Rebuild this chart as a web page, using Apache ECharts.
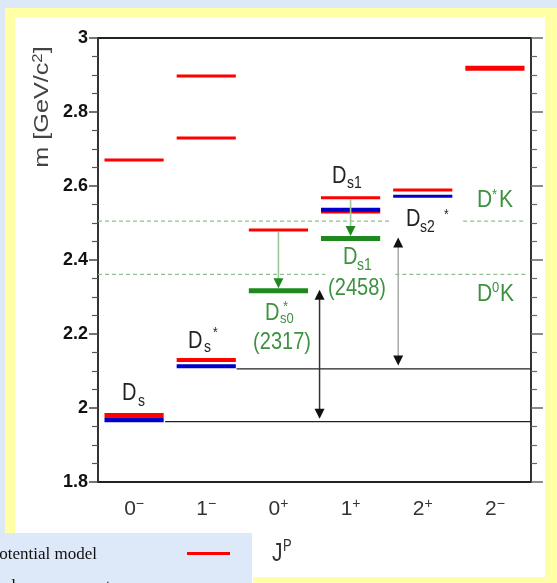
<!DOCTYPE html>
<html><head><meta charset="utf-8">
<script src="https://cdn.jsdelivr.net/npm/echarts@6/dist/echarts.min.js"></script>
<style>html,body{margin:0;padding:0;background:#fff}#c{width:557px;height:583px}</style>
</head><body><div id="c"></div>
<script>
// ---------------- data ----------------
const categories = ['0-', '1-', '0+', '1+', '2+', '2-'];
const yTicks = [1.8, 2, 2.2, 2.4, 2.6, 2.8, 3];
// [J^P category index, mass GeV/c^2]
const potentialModel = [[0, 2.670], [0, 1.981], [1, 2.897], [1, 2.730], [1, 2.130], [2, 2.481], [3, 2.568], [3, 2.530], [4, 2.589], [5, 2.918]];
const measured = [[0, 1.968], [1, 2.113], [3, 2.536], [4, 2.572]];
const newStates = [[2, 2.317], [3, 2.458]];
const thresholdNames = ['D*K', 'D0K'];
const thresholdMasses = [2.505, 2.361];
const referenceMasses = [2.106, 1.963];          // Ds*, Ds reference levels
const transitions = [[2, 2.481, 2.317], [3, 2.568, 2.458]];   // [cat, from, to]
const splittings = [[3, 2.317, 1.968], [4, 2.458, 2.112]];   // [cat, upper, lower]

// ---------------- layout / style ----------------
const FONT = 'Liberation Sans, Arial, sans-serif';
const RED = '#ff0000', BLUE = '#0000cc', GREEN = '#1e8a1e', LGREEN = '#3d9140';
const PAD = 0.09;
const TEXT_STRETCH = 1.18;
const modelWidths = [3, 4, 3, 3, 4, 3, 3, 3, 3, 5];
const measuredWidths = [5, 4, 4, 3];
const referenceStart = [1.92, 0.93];
const thresholdSegments = [[[0, 4.07], [5.06, 5.93]], [[0, 3.15], [4.12, 5.93]]];
const transitionOffset = [0.5, 0.5];
const splittingOffset = [0.07, 0.16];
const splittingShaft = ['#333', '#aaa'];
// annotation anchors (x in category units, y in mass) + text parts [text, dx, dy, size]
const annotations = [
  {x: 0.333, m: 2.038, color: '#222', parts: [['D', 0, 0, 20], ['s', 16, 8, 14]]},
  {x: 1.247, m: 2.180, color: '#222', parts: [['D', 0, 0, 20], ['s', 16, 6, 14], ['*', 25, -8, 12]]},
  {x: 2.314, m: 2.255, color: LGREEN, parts: [['D', 0, 0, 20], ['*', 18, -7, 13], ['s0', 15, 5, 13]]},
  {x: 2.55, m: 2.178, color: LGREEN, center: true, parts: [['(2317)', 0, 0, 20]]},
  {x: 3.395, m: 2.407, color: LGREEN, parts: [['D', 0, 0, 20], ['s1', 14, 8, 14]]},
  {x: 3.589, m: 2.324, color: LGREEN, center: true, parts: [['(2458)', 0, 0, 20]]},
  {x: 3.242, m: 2.626, color: '#222', parts: [['D', 0, 0, 20], ['s1', 15, 7, 14]]},
  {x: 4.268, m: 2.509, color: '#222', parts: [['D', 0, 0, 20], ['s2', 14, 8, 14], ['*', 38, -5, 12]]},
  {x: 5.25, m: 2.562, color: LGREEN, parts: [['D', 0, 0, 21], ['*', 15, -5, 13], ['K', 22, 0, 21]]},
  {x: 5.25, m: 2.309, color: LGREEN, parts: [['D', 0, 0, 21], ['0', 15, -6, 13], ['K', 23, 0, 21]]}
];

function levelSeries(data, color, widths) {
  return {
    type: 'custom', xAxisIndex: 2, yAxisIndex: 0, clip: false, silent: true, data,
    renderItem(params, api) {
      const i = api.value(0), m = api.value(1);
      const a = api.coord([i + PAD, m]), b = api.coord([i + 1 - PAD, m]);
      return {type: 'line', shape: {x1: a[0], y1: a[1], x2: b[0], y2: b[1]},
        style: {stroke: color, lineWidth: widths[params.dataIndex]}};
    }
  };
}
function head(x, y, dir, color) { // tip at (x,y), dir=+1 pointing down, -1 up
  const h = 10, w = 5;
  return {type: 'polygon', shape: {points: [[x, y], [x - w, y - dir * h], [x + w, y - dir * h]]}, style: {fill: color}};
}

const option = {
  backgroundColor: '#ffffff',
  animation: false,
  grid: {left: 98, right: 26, top: 38, bottom: 101},
  xAxis: [
    {type: 'category', data: categories, position: 'bottom', boundaryGap: true,
     axisLine: {lineStyle: {color: '#222', width: 2}},
     axisTick: {length: 9, lineStyle: {color: '#777', width: 2}},
     axisLabel: {margin: 15, color: '#333', fontFamily: FONT,
       formatter: v => '{n|' + v[0] + '}{s|' + (v[1] === '-' ? '\u2212' : '+') + '}',
       rich: {n: {fontSize: 21, fontFamily: FONT, color: '#333', lineHeight: 24},
              s: {fontSize: 14, fontFamily: FONT, color: '#333', verticalAlign: 'top', lineHeight: 16}}}},
    {type: 'category', data: categories, position: 'top', boundaryGap: true,
     axisLine: {lineStyle: {color: '#222', width: 2}},
     axisTick: {length: 9, lineStyle: {color: '#555', width: 1.5}},
     axisLabel: {show: false}},
    {type: 'value', min: 0, max: 6, show: false}
  ],
  yAxis: [
    {type: 'value', min: 1.8, max: 3, interval: 0.2, position: 'left',
     axisLine: {show: true, lineStyle: {color: '#333', width: 2}},
     axisTick: {show: true, length: 9, lineStyle: {color: '#444', width: 1.5}},
     minorTick: {show: true, splitNumber: 4, length: 6, lineStyle: {color: '#555', width: 1.2}},
     splitLine: {show: false},
     axisLabel: {margin: 10, color: '#111', fontWeight: 'bold', fontSize: 18, fontFamily: FONT,
       formatter: v => yTicks.find(t => Math.abs(t - v) < 1e-6).toString()}},
    {type: 'value', min: 1.8, max: 3, interval: 0.2, position: 'right',
     axisLine: {show: true, lineStyle: {color: '#333', width: 2}},
     axisTick: {show: true, length: 12, lineStyle: {color: '#666', width: 1.5}},
     minorTick: {show: true, splitNumber: 4, length: 6, lineStyle: {color: '#666', width: 1.2}},
     splitLine: {show: false}, axisLabel: {show: false}}
  ],
  series: [
    // threshold dashed lines
    {type: 'custom', xAxisIndex: 2, yAxisIndex: 0, clip: false, silent: true,
     data: thresholdMasses.map((m, k) => [k, m]),
     renderItem(params, api) {
       const m = api.value(1);
       return {type: 'group', children: thresholdSegments[params.dataIndex].map(s => {
         const a = api.coord([s[0], m]), b = api.coord([s[1], m]);
         return {type: 'line', shape: {x1: a[0], y1: a[1], x2: b[0], y2: b[1]},
           style: {stroke: '#8fbf8f', lineWidth: 1.2, lineDash: [4, 3]}};
       })};
     }},
    // reference (black) lines
    {type: 'custom', xAxisIndex: 2, yAxisIndex: 0, clip: false, silent: true,
     data: referenceMasses.map((m, k) => [k, m]),
     renderItem(params, api) {
       const m = api.value(1);
       const a = api.coord([referenceStart[params.dataIndex], m]), b = api.coord([6, m]);
       return {type: 'line', shape: {x1: a[0], y1: a[1], x2: b[0], y2: b[1]}, style: {stroke: '#222', lineWidth: 1.3}};
     }},
    levelSeries(potentialModel, RED, modelWidths),
    levelSeries(measured, BLUE, measuredWidths),
    levelSeries(newStates, GREEN, [5, 5]),
    // transitions (green arrows)
    {type: 'custom', xAxisIndex: 2, yAxisIndex: 0, clip: false, silent: true, data: transitions,
     renderItem(params, api) {
       const c = api.value(0) + transitionOffset[params.dataIndex];
       const a = api.coord([c, api.value(1)]), b = api.coord([c, api.value(2)]);
       const tipY = b[1] - 2.5;
       return {type: 'group', children: [
         {type: 'line', shape: {x1: a[0], y1: a[1] + 1.5, x2: b[0], y2: tipY - 8}, style: {stroke: '#9cc79c', lineWidth: 1.6}},
         head(b[0], tipY, 1, GREEN)
       ]};
     }},
    // mass splittings (double arrows)
    {type: 'custom', xAxisIndex: 2, yAxisIndex: 0, clip: false, silent: true, data: splittings,
     renderItem(params, api) {
       const c = api.value(0) + splittingOffset[params.dataIndex];
       const a = api.coord([c, api.value(1)]), b = api.coord([c, api.value(2)]);
       return {type: 'group', children: [
         {type: 'line', shape: {x1: a[0], y1: a[1] + 8, x2: b[0], y2: b[1] - 8}, style: {stroke: splittingShaft[params.dataIndex], lineWidth: 1.5}},
         head(a[0], a[1] - 1, -1, '#111'),
         head(b[0], b[1] - 1, 1, '#111')
       ]};
     }},
    // annotations
    {type: 'custom', xAxisIndex: 2, yAxisIndex: 0, clip: false, silent: true,
     data: annotations.map(a => [a.x, a.m]),
     renderItem(params, api) {
       const an = annotations[params.dataIndex];
       const p = api.coord([api.value(0), api.value(1)]);
       return {type: 'group', children: an.parts.map(t => ({
         type: 'text', x: p[0] + t[1], y: p[1] + t[2], scaleY: TEXT_STRETCH,
         style: {text: t[0], fill: an.color, fontSize: t[3], fontFamily: FONT,
           align: an.center ? 'center' : 'left', verticalAlign: 'middle'}
       }))};
     }}
  ],
  graphic: [
    {type: 'rect', shape: {x: 0, y: 0, width: 557, height: 8}, style: {fill: '#dde9f8'}, silent: true},
    {type: 'rect', shape: {x: 0, y: 0, width: 5, height: 533}, style: {fill: '#dde9f8'}, silent: true},
    {type: 'rect', shape: {x: 5, y: 8, width: 552, height: 9}, style: {fill: '#ffffa6'}, silent: true},
    {type: 'rect', shape: {x: 5, y: 8, width: 10, height: 525}, style: {fill: '#ffffa6'}, silent: true},
    {type: 'rect', shape: {x: 545, y: 8, width: 12, height: 575}, style: {fill: '#ffffa6'}, silent: true},
    {type: 'rect', shape: {x: 253, y: 577, width: 304, height: 6}, style: {fill: '#ffffa6'}, silent: true},
    {type: 'rect', shape: {x: 0, y: 533, width: 252, height: 50}, style: {fill: '#dde9f8'}, silent: true},
    {type: 'text', x: 97, y: 555, style: {text: 'Potential model', fill: '#111', fontSize: 17,
      fontFamily: 'Liberation Serif, Times New Roman, serif', align: 'right', verticalAlign: 'middle'}},
    {type: 'text', x: 117, y: 587, style: {text: 'Observed measurements', fill: '#111', fontSize: 17,
      fontFamily: 'Liberation Serif, Times New Roman, serif', align: 'right', verticalAlign: 'middle'}},
    {type: 'rect', shape: {x: 187, y: 552, width: 43, height: 3}, style: {fill: RED}, silent: true},
    {type: 'text', x: 272, y: 554, scaleY: 1.2, style: {text: 'J', fill: '#333', fontSize: 21, fontFamily: FONT, verticalAlign: 'middle'}},
    {type: 'text', x: 283, y: 547, scaleY: 1.2, style: {text: 'P', fill: '#333', fontSize: 13, fontFamily: FONT, verticalAlign: 'middle'}},
    {type: 'text', x: 42, y: 107, rotation: Math.PI / 2, scaleX: 1.2,
     style: {text: 'm [GeV/c{sup|2}]', fill: '#444', fontSize: 21, fontFamily: FONT, align: 'center', verticalAlign: 'middle',
       rich: {sup: {fontSize: 14, fontFamily: FONT, fill: '#444', verticalAlign: 'top', lineHeight: 15}}}}
  ]
};
const chart = echarts.init(document.getElementById('c'), null, {renderer: 'canvas'});
chart.setOption(option);
</script>
</body></html>
